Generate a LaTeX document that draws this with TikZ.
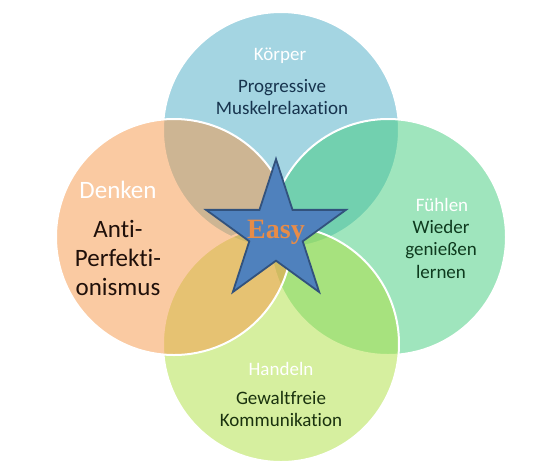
\documentclass[tikz,border=0pt]{standalone}
\usepackage{fontspec}
\setmainfont{Carlito}[Ligatures=NoCommon]
\newfontfamily\easyfont{Liberation Serif}
\usetikzlibrary{shapes.geometric}
\definecolor{BlueKoerper}{RGB}{75,172,198}
\definecolor{OrangeDenken}{RGB}{247,150,70}
\definecolor{GreenFuehlen}{RGB}{65,205,125}
\definecolor{LimeHandeln}{RGB}{175,225,65}
\definecolor{StarFill}{RGB}{79,129,189}
\definecolor{StarLine}{RGB}{50,82,125}
\definecolor{EasyOrange}{RGB}{232,140,72}
\definecolor{TextKoerper}{RGB}{23,52,78}
\definecolor{TextDenken}{RGB}{32,16,10}
\definecolor{TextFuehlen}{RGB}{14,58,30}
\definecolor{TextHandeln}{RGB}{26,50,14}
\tikzset{
	area/.style={shape=circle, minimum size=236pt, inner sep=0pt, draw=white, line width=2pt, fill opacity=0.5},
	title/.style={text=white, font=\fontsize{19}{22}\selectfont},
	body/.style={align=center, font=\fontsize{19}{22.5}\selectfont},
}

\begin{document}
\begin{tikzpicture}[x=1pt, y=-1pt]
	\useasboundingbox[fill=white] (0,0) rectangle (555,475);
	\node at (281,130) [area, fill=BlueKoerper] (koerper) {};
	\node at (388,237) [area, fill=GreenFuehlen] (fuehlen) {};
	\node at (281,344) [area, fill=LimeHandeln] (handeln) {};
	\node at (174,237) [area, fill=OrangeDenken] (denken) {};
	\node at (280,56) [title] (koerpertitle) {Körper};
	\node at (282,97) [body, text=TextKoerper] (koerpertext) {Progressive\\Muskelrelaxation};
	\node at (118,190) [title, font=\fontsize{25}{29}\selectfont] (denkentitle) {Denken};
	\node at (118,258) [body, font=\fontsize{25}{29}\selectfont, text=TextDenken] (denkentext) {Anti-\\Perfekti-\\onismus};
	\node at (442,205) [title] (fuehlentitle) {Fühlen};
	\node at (441,249) [body, text=TextFuehlen] (fuehlentext) {Wieder\\genießen\\lernen};
	\node at (281,369) [title] (handelntitle) {Handeln};
	\node at (281,409) [body, text=TextHandeln] (handelntext) {Gewaltfreie\\Kommunikation};
	% star in the middle
	\node at (276,232.6) [star, star points=5, star point ratio=2.618, minimum size=147pt, inner sep=0pt, fill=StarFill, draw=StarLine, line width=1.8pt] (star) {};
	\node at (star.center) [text=EasyOrange, font=\easyfont\bfseries\fontsize{28}{30}\selectfont] (easy) {Easy};
\end{tikzpicture}
\end{document}
